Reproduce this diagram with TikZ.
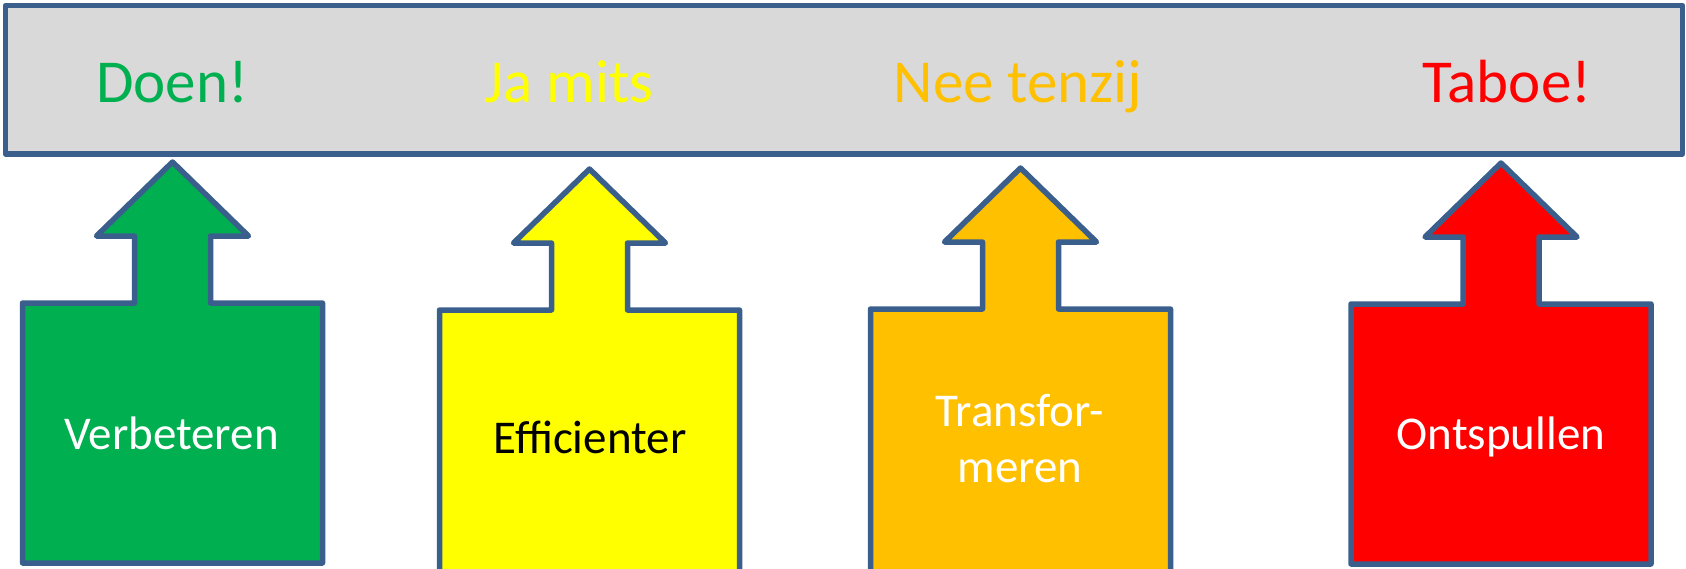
\documentclass[tikz,border=0pt]{standalone}
\usepackage{fontspec}
\setmainfont{Carlito}
\definecolor{edge}{HTML}{3A5F8C}
\definecolor{bar}{HTML}{D9D9D9}
\definecolor{cgreen}{HTML}{00B050}
\definecolor{cyellow}{HTML}{FFFF00}
\definecolor{corange}{HTML}{FFC000}
\definecolor{cred}{HTML}{FF0000}
\newcommand\upcallout[5]{% name, center x, box top y, box bottom y, fill
  \pgfmathsetmacro\cxL{#2-150}\pgfmathsetmacro\cxR{#2+150}%
  \pgfmathsetmacro\sxL{#2-38}\pgfmathsetmacro\sxR{#2+38}%
  \pgfmathsetmacro\hxL{#2-76}\pgfmathsetmacro\hxR{#2+76}%
  \pgfmathsetmacro\hy{#3-67}\pgfmathsetmacro\ty{#3-141}%
  \draw[shape line, fill=#5] (\cxL,#4) -- (\cxL,#3) -- (\sxL,#3) -- (\sxL,\hy) -- (\hxL,\hy)
     -- (#2,\ty) coordinate (#1tip) -- (\hxR,\hy) -- (\sxR,\hy) -- (\sxR,#3) -- (\cxR,#3) -- (\cxR,#4) -- cycle;
}
\begin{document}
\begin{tikzpicture}[x=1pt,y=-1pt,
  shape line/.style={draw=edge, line width=5.5pt, line join=round},
  toplabel/.style={inner sep=0pt, anchor=base, font=\fontsize{61}{73}\selectfont},
  boxlabel/.style={inner sep=0pt, anchor=base, align=center, font=\fontsize{47}{56}\selectfont}]
\useasboundingbox (0,0) rectangle (1686,568);
\begin{scope}
\clip (0,0) rectangle (1686,568);
\draw[shape line, fill=bar] (5.5,5.5) rectangle (1682.5,154) coordinate (barSE);
\node[toplabel, text=cgreen] (doen) at (172,102) {Doen!};
\node[toplabel, text=cyellow] (jamits) at (569,102) {Ja mits};
\node[toplabel, text=corange] (neetenzij) at (1018,102) {Nee tenzij};
\node[toplabel, text=cred] (taboe) at (1507,102) {Taboe!};
\upcallout{a}{172.5}{303}{563}{cgreen}
\upcallout{b}{589.5}{310}{572}{cyellow}
\upcallout{c}{1020.5}{309}{572}{corange}
\upcallout{d}{1501}{304}{564}{cred}
\node[boxlabel, text=white] (verb) at (171.5,449) {Verbeteren};
\node[boxlabel, text=black] (effi) at (590,453) {Efficienter};
\node[boxlabel, text=white] (trans) at (1020,482) {Transfor-\\meren};
\node[boxlabel, text=white] (onts) at (1501,449) {Ontspullen};
\end{scope}
\end{tikzpicture}
\end{document}
